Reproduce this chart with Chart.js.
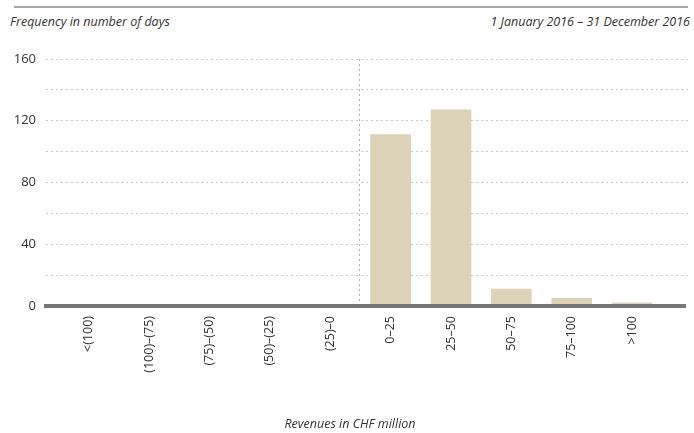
<!DOCTYPE html>
<html lang="en">

<head>
    <meta charset="UTF-8">
    <title>Frequency of daily revenues</title>
    <script src="https://cdn.jsdelivr.net/npm/chart.js"></script>
    <style>
        body {
            margin: 0;
            background: #ffffff;
            font-family: 'Open Sans', 'Noto Sans', sans-serif;
            width: 694px;
            height: 433px;
            position: relative;
            overflow: hidden;
        }

        .rule {
            position: absolute;
            left: 14px;
            right: 6px;
            top: 6px;
            height: 2px;
            background: #a8a8a8;
        }

        .sub {
            position: absolute;
            top: 13px;
            font-size: 12.5px;
            font-style: italic;
            color: #333;
        }

        #xtitle {
            position: absolute;
            top: 415px;
            left: 0;
            width: 700px;
            text-align: center;
            font-size: 12.5px;
            font-style: italic;
            color: #333;
        }

        .chart-container {
            position: absolute;
            left: 0;
            top: 0;
            width: 694px;
            height: 433px;
        }
    </style>
</head>

<body>
    <div class="rule"></div>
    <div class="sub" style="left:10px">Frequency in number of days</div>
    <div class="sub" style="right:4px">1 January 2016 – 31 December 2016</div>

    <div class="chart-container">
        <canvas id="revenueChart"></canvas>
    </div>

    <div id="xtitle">Revenues in CHF million</div>

    <script>
        // Revenue buckets (CHF million) and number of days in each
        const categories = ['<(100)', '(100)–(75)', '(75)–(50)', '(50)–(25)', '(25)–0',
            '0–25', '25–50', '50–75', '75–100', '>100'];
        const days = [0, 0, 0, 0, 0, 111, 127, 11, 5, 2];
        const yTicks = [0, 40, 80, 120, 160];

        const barColor = '#ddd3b9';

        // dotted divider between negative and positive buckets + thick zero line
        const overlay = {
            id: 'overlay',
            beforeDatasetsDraw(chart) {
                const { ctx, chartArea, scales } = chart;
                const x = Math.round(scales.x.getPixelForValue(4.5)) - 0.5;
                ctx.save();
                ctx.strokeStyle = '#b0b0b0';
                ctx.lineWidth = 1;
                ctx.setLineDash([2, 3]);
                ctx.beginPath();
                ctx.moveTo(x, chartArea.top);
                ctx.lineTo(x, chartArea.bottom);
                ctx.stroke();
                ctx.restore();
            },
            afterDatasetsDraw(chart) {
                const { ctx, chartArea, scales } = chart;
                const y = scales.y.getPixelForValue(0);
                ctx.save();
                ctx.strokeStyle = '#777777';
                ctx.lineWidth = 4;
                ctx.beginPath();
                ctx.moveTo(chartArea.left - 2, y);
                ctx.lineTo(chartArea.right - 4, y);
                ctx.stroke();
                ctx.restore();
            }
        };

        const ctx = document.getElementById('revenueChart').getContext('2d');
        new Chart(ctx, {
            type: 'bar',
            data: {
                datasets: [{
                    data: days.map((v, i) => ({ x: i, y: v })),
                    backgroundColor: barColor,
                    borderWidth: 0,
                    barThickness: 40
                }]
            },
            options: {
                responsive: true,
                maintainAspectRatio: false,
                animation: false,
                layout: {
                    padding: { top: 59, right: 4, left: 0, bottom: 0 }
                },
                plugins: {
                    legend: { display: false },
                    tooltip: { enabled: false }
                },
                scales: {
                    x: {
                        type: 'linear',
                        offset: false,
                        min: -0.71,
                        max: 9.96,
                        grid: { display: false, drawTicks: false, offset: false },
                        border: { display: false },
                        afterBuildTicks: (scale) => {
                            scale.ticks = categories.map((_, i) => ({ value: i }));
                        },
                        afterFit: (scale) => { scale.height = 127; },
                        ticks: {
                            autoSkip: false,
                            minRotation: 90,
                            maxRotation: 90,
                            padding: 10,
                            color: '#333',
                            font: { family: "'Open Sans'", size: 12.5 },
                            callback: (v) => categories[v]
                        }
                    },
                    y: {
                        min: 0,
                        max: 160,
                        grid: {
                            drawTicks: false,
                            color: (c) => c.tick && c.tick.value === 0 ? 'rgba(0,0,0,0)' : '#c8c8c8',
                            lineWidth: 1
                        },
                        border: { display: false, dash: [2, 3] },
                        afterFit: (scale) => { scale.width = 46; },
                        ticks: {
                            stepSize: 20,
                            padding: 10,
                            color: '#333',
                            font: { family: "'Open Sans'", size: 13 },
                            callback: (v) => yTicks.includes(v) ? v : ''
                        }
                    }
                }
            },
            plugins: [overlay]
        });
    </script>

</body>

</html>
